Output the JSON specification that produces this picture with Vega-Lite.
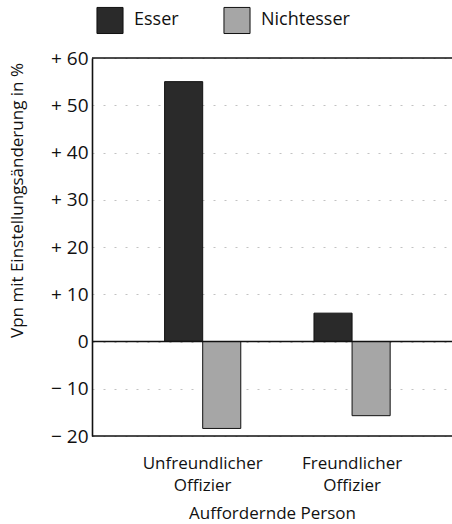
{
  "$schema": "https://vega.github.io/schema/vega-lite/v6.json",
  "autosize": "none",
  "width": 360,
  "height": 378,
  "padding": {"left": 92, "top": 58, "right": 0, "bottom": 88},
  "background": "white",
  "config": {
    "view": {"stroke": null},
    "font": "Open Sans",
    "axis": {"labelFont": "Open Sans", "titleFont": "Open Sans", "labelColor": "#111", "titleColor": "#111", "titleFontWeight": "normal"}
  },
  "layer": [
    {
      "data": {"values": [
        {"person": "Unfreundlicher Offizier", "group": "Esser", "value": 55},
        {"person": "Unfreundlicher Offizier", "group": "Nichtesser", "value": -18.4},
        {"person": "Freundlicher Offizier", "group": "Esser", "value": 6},
        {"person": "Freundlicher Offizier", "group": "Nichtesser", "value": -15.7}
      ]},
      "mark": {"type": "bar", "stroke": "#111", "strokeWidth": 1},
      "encoding": {
        "x": {
          "field": "person", "type": "nominal",
          "sort": ["Unfreundlicher Offizier", "Freundlicher Offizier"],
          "scale": {"paddingInner": 0.49, "paddingOuter": 0.45, "align": 0.54},
          "axis": {
            "title": "Auffordernde Person", "titleFontSize": 17, "titlePadding": 12,
            "labelAngle": 0, "labelFontSize": 17, "labelPadding": 27, "labelLineHeight": 22,
            "labelExpr": "split(datum.label, ' ')", "ticks": false, "domain": false, "labelBaseline": "middle"
          }
        },
        "xOffset": {"field": "group", "type": "nominal", "scale": {"paddingInner": 0, "paddingOuter": 0}},
        "y": {
          "field": "value", "type": "quantitative",
          "scale": {"domain": [-20, 60], "nice": false, "zero": false},
          "title": "Vpn  mit Einstellungsänderung in %",
          "axis": {
            "values": [-20, -10, 0, 10, 20, 30, 40, 50, 60],
            "labelExpr": "datum.value > 0 ? '+ ' + datum.value : (datum.value < 0 ? '− ' + abs(datum.value) : '0')",
            "labelFontSize": 19, "labelPadding": 4, "ticks": false,
            "domain": true, "domainColor": "#111", "domainWidth": 1.6,
            "grid": true, "gridColor": "#777", "gridDash": [2, 9], "gridOpacity": 0.45,
            "titleFontSize": 17, "titleAngle": -90, "titleX": -75, "titleY": 142, "titleAlign": "center", "titleBaseline": "middle"
          }
        },
        "color": {
          "field": "group", "type": "nominal",
          "scale": {"domain": ["Esser", "Nichtesser"], "range": ["#2a2a2a", "#a6a6a6"]},
          "legend": {
            "orient": "none", "legendX": 4, "legendY": -52, "direction": "horizontal",
            "title": null, "symbolType": "square", "symbolSize": 680, "symbolStrokeWidth": 1, "symbolStrokeColor": "#111",
            "labelFontSize": 18, "labelFont": "Open Sans", "labelColor": "#111", "labelOffset": 10, "columnPadding": 42
          }
        }
      }
    },
    {
      "data": {"values": [{"v": 60}, {"v": 0}, {"v": -20}]},
      "mark": {"type": "rule", "color": "#111", "strokeWidth": 1.6},
      "encoding": {
        "y": {"field": "v", "type": "quantitative", "title": "Vpn  mit Einstellungsänderung in %"}
      }
    }
  ]
}
